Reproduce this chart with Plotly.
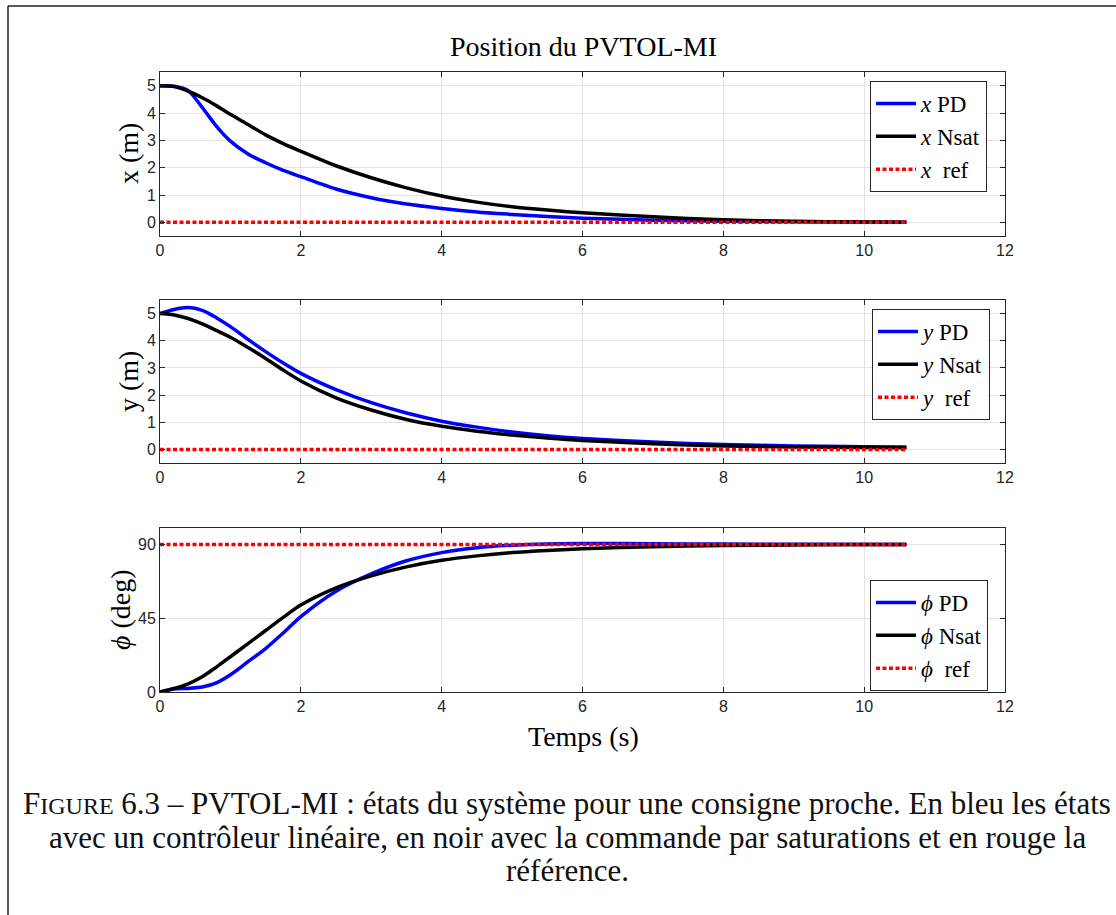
import plotly.graph_objects as go

# ---------------- data ----------------
t = [0, 0.2, 0.4, 0.6, 0.8, 1.0, 1.25, 1.5, 1.75, 2.0, 2.5, 3.0, 3.5, 4.0,
     4.5, 5.0, 5.5, 6.0, 7.0, 8.0, 9.0, 10.0, 10.6]

x_pd = [5.0, 4.98, 4.82, 4.2, 3.52, 2.97, 2.5, 2.18, 1.9, 1.67, 1.22, 0.9,
        0.67, 0.51, 0.38, 0.29, 0.21, 0.15, 0.08, 0.04, 0.02, 0.01, 0.0]
x_nsat = [5.0, 4.97, 4.8, 4.56, 4.27, 3.95, 3.58, 3.2, 2.88, 2.6, 2.07, 1.63,
          1.26, 0.96, 0.74, 0.57, 0.45, 0.35, 0.2, 0.09, 0.04, 0.01, 0.0]

y_pd = [5.0, 5.15, 5.22, 5.12, 4.85, 4.52, 4.05, 3.6, 3.18, 2.8, 2.2, 1.72,
        1.34, 1.04, 0.82, 0.64, 0.5, 0.4, 0.27, 0.18, 0.13, 0.1, 0.09]
y_nsat = [5.0, 4.95, 4.82, 4.62, 4.38, 4.13, 3.75, 3.35, 2.92, 2.52, 1.9, 1.45,
          1.1, 0.85, 0.67, 0.53, 0.42, 0.33, 0.21, 0.13, 0.09, 0.07, 0.06]

phi_pd = [0, 1.8, 2.2, 3.0, 5.5, 10.5, 18.5, 26.5, 36, 46, 61.5, 72, 80, 85,
          88, 89.5, 90.3, 90.5, 90.4, 90.2, 90.1, 90, 90]
phi_nsat = [0, 2.2, 5.0, 9.3, 15.2, 21.5, 29.5, 37.5, 45.5, 53, 63.5, 70.8,
            76.3, 80.3, 83, 85, 86.3, 87.3, 88.6, 89.3, 89.7, 89.9, 90]

t_ref = [0, 10.6]
x_ref = [0, 0]
y_ref = [0, 0]
phi_ref = [90, 90]

x_ticks = [0, 2, 4, 6, 8, 10, 12]
pos_ticks = [0, 1, 2, 3, 4, 5]
phi_ticks = [0, 45, 90]

# ---------------- figure ----------------
W, H = 1116, 915
SERIF = "Liberation Serif"
SANS = "Liberation Sans"
AX = "#262626"

fig = go.Figure()

def px_x(p):
    return p / W

def px_y(p):
    return 1 - p / H

panels = [
    ("", x_pd, x_nsat, x_ref, "<i>x</i>", "legend"),
    ("2", y_pd, y_nsat, y_ref, "<i>y</i>", "legend2"),
    ("3", phi_pd, phi_nsat, phi_ref, "<i>ϕ</i>", "legend3"),
]

for sfx, pd_, ns_, ref_, sym, leg in panels:
    xa, ya = "x" + sfx, "y" + sfx
    fig.add_trace(go.Scatter(x=t, y=pd_, mode="lines", xaxis=xa, yaxis=ya,
                             line=dict(color="#0000ff", width=3.5, shape="spline", smoothing=0.8),
                             name=sym + " PD", legend=leg))
    fig.add_trace(go.Scatter(x=t, y=ns_, mode="lines", xaxis=xa, yaxis=ya,
                             line=dict(color="#000000", width=3.5, shape="spline", smoothing=0.8),
                             name=sym + " Nsat", legend=leg))
    fig.add_trace(go.Scatter(x=t_ref, y=ref_, mode="lines", xaxis=xa, yaxis=ya,
                             line=dict(color="#ff0000", width=3.5, dash="4px,2.5px"),
                             name=sym + "  ref", legend=leg))

dom_x = [px_x(160), px_x(1005)]
dom_y = [
    [px_y(236), px_y(72)],
    [px_y(463), px_y(300)],
    [px_y(692), px_y(528)],
]

common_x = dict(range=[0, 12], tickvals=x_ticks, ticks="inside", ticklen=5,
                tickcolor=AX, showline=True, linecolor=AX, linewidth=1,
                mirror="ticks", showgrid=True, gridcolor="#e3e3e3", gridwidth=1,
                zeroline=False, automargin=False, domain=dom_x,
                tickfont=dict(family=SANS, size=16, color=AX))
common_y = dict(ticks="inside", ticklen=5, tickcolor=AX, showline=True,
                linecolor=AX, linewidth=1, mirror="ticks", showgrid=True,
                gridcolor="#e3e3e3", gridwidth=1, zeroline=False,
                automargin=False, tickfont=dict(family=SANS, size=16, color=AX))

fig.update_layout(
    xaxis=dict(common_x, anchor="y"),
    xaxis2=dict(common_x, anchor="y2"),
    xaxis3=dict(common_x, anchor="y3"),
    yaxis=dict(common_y, range=[-0.5, 5.5], tickvals=pos_ticks, domain=dom_y[0], anchor="x"),
    yaxis2=dict(common_y, range=[-0.5, 5.5], tickvals=pos_ticks, domain=dom_y[1], anchor="x2"),
    yaxis3=dict(common_y, range=[0, 100], tickvals=phi_ticks, domain=dom_y[2], anchor="x3"),
)

leg_common = dict(bgcolor="white", bordercolor=AX, borderwidth=1,
                  font=dict(family=SERIF, size=23, color="black"),
                  xanchor="left", yanchor="top", tracegroupgap=0,
                  itemwidth=40)
fig.update_layout(
    legend=dict(leg_common, x=px_x(870), y=px_y(81)),
    legend2=dict(leg_common, x=px_x(872), y=px_y(309)),
    legend3=dict(leg_common, x=px_x(870), y=px_y(580)),
)

annotations = [
    dict(text="Position du PVTOL-MI", x=px_x(583), y=px_y(47),
         font=dict(family=SERIF, size=28, color="black")),
    dict(text="x (m)", x=px_x(128), y=px_y(154), textangle=-90,
         font=dict(family=SERIF, size=28, color="black")),
    dict(text="y (m)", x=px_x(128), y=px_y(382), textangle=-90,
         font=dict(family=SERIF, size=28, color="black")),
    dict(text="<i>ϕ</i> (deg)", x=px_x(120), y=px_y(610), textangle=-90,
         font=dict(family=SERIF, size=28, color="black")),
    dict(text="Temps (s)", x=px_x(583), y=px_y(736),
         font=dict(family=SERIF, size=28, color="black")),
    dict(text="F<span style='font-size:24px'>IGURE</span> 6.3 – PVTOL-MI : états du système pour une consigne proche. En bleu les états",
         x=px_x(567), y=px_y(803), font=dict(family=SERIF, size=31, color="#111111")),
    dict(text="avec un contrôleur linéaire, en noir avec la commande par saturations et en rouge la",
         x=px_x(567), y=px_y(837), font=dict(family=SERIF, size=31, color="#111111")),
    dict(text="référence.",
         x=px_x(567), y=px_y(870), font=dict(family=SERIF, size=31, color="#111111")),
]
for a in annotations:
    a.update(xref="paper", yref="paper", showarrow=False, xanchor="center", yanchor="middle")
fig.update_layout(annotations=annotations)

fig.update_layout(shapes=[
    dict(type="line", xref="paper", yref="paper", x0=px_x(8), x1=1.0,
         y0=px_y(6), y1=px_y(6), line=dict(color="#222222", width=1.5)),
    dict(type="line", xref="paper", yref="paper", x0=px_x(8), x1=px_x(8),
         y0=px_y(6), y1=0.0, line=dict(color="#222222", width=1.5)),
])

fig.update_layout(width=W, height=H, margin=dict(l=0, r=0, t=0, b=0),
                  template="none", paper_bgcolor="white", plot_bgcolor="white",
                  showlegend=True)

fig.write_html("out.html", config={"displayModeBar": False},
               post_script="document.body.style.margin='0';document.body.style.overflow='hidden';")
